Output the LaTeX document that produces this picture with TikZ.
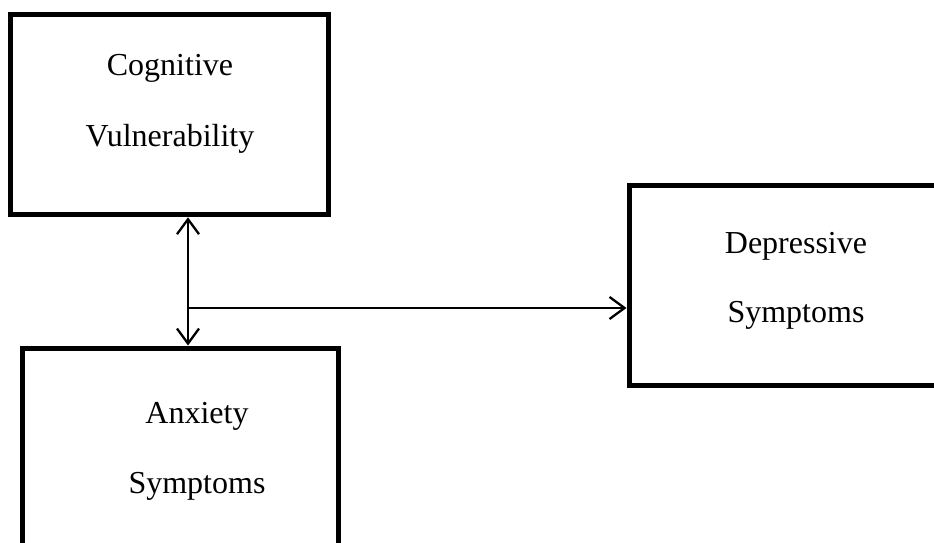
\documentclass[tikz,border=0pt]{standalone}
\usepackage{fontspec}
\setmainfont{Liberation Serif}
\usetikzlibrary{arrows.meta}
\begin{document}
\begin{tikzpicture}[x=1pt,y=-1pt,
  box/.style={draw=black,line width=5pt,rectangle,minimum width=#1,minimum height=200pt,inner sep=0pt},
  lbl/.style={anchor=base,inner sep=0pt,font=\fontsize{32}{36}\selectfont},
  conn/.style={line width=2.3pt,draw=black},
  mybarb/.tip={Straight Barb[length=15pt,width=22pt,line width=2.3pt]}]
\useasboundingbox (0,0) rectangle (934,543);
\clip (0,0) rectangle (934,543);
\node[box=317.5pt] (cv) at (169.25,114.75) {};
\node[box=336pt] (dep) at (797,285) {};
\node[box=316pt] (ax) at (180,448) {};
\node[lbl] (cv1) at (170,76) {Cognitive};
\node[lbl] (cv2) at (170,146) {Vulnerability};
\node[lbl] (dep1) at (796,253) {Depressive};
\node[lbl] (dep2) at (796,322) {Symptoms};
\node[lbl] (ax1) at (197,423) {Anxiety};
\node[lbl] (ax2) at (197,493) {Symptoms};
\coordinate (j) at (188,308);
\draw[conn,mybarb-mybarb] (j |- cv.south) -- (j |- ax.north);
\draw[conn,-mybarb] (j) -- (j -| dep.west);
\end{tikzpicture}
\end{document}
